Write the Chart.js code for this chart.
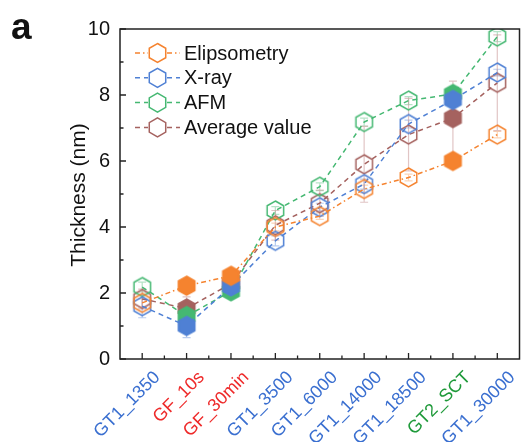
<!DOCTYPE html>
<html>
<head>
<meta charset="utf-8">
<script src="https://cdn.jsdelivr.net/npm/chart.js@4"></script>
<style>
  html, body { margin: 0; padding: 0; background: #fff; }
  #wrap { width: 530px; height: 442px; position: relative; }
</style>
</head>
<body>
<div id="wrap"><canvas id="chart" width="530" height="442"></canvas></div>
<script>
// data
const samples = ['GT1_1350', 'GF_10s', 'GF_30min', 'GT1_3500', 'GT1_6000', 'GT1_14000', 'GT1_18500', 'GT2_SCT', 'GT1_30000'];
const sampleColors = ['#3a6fd0', '#ee2a2a', '#ee2a2a', '#3a6fd0', '#3a6fd0', '#3a6fd0', '#3a6fd0', '#1f9a3a', '#3a6fd0'];
const filledIdx = [1, 2, 7];

const elipsometry = [1.7, 2.22, 2.52, 4.0, 4.33, 5.15, 5.5, 6.0, 6.8];
const xray = [1.6, 1.0, 2.2, 3.58, 4.6, 5.3, 7.12, 7.85, 8.68];
const afm = [2.18, 1.3, 2.05, 4.5, 5.22, 7.18, 7.83, 8.03, 9.77];
const average = [1.82, 1.53, 2.28, 4.05, 4.72, 5.9, 6.8, 7.3, 8.37];

const elipsometryErr = [0.12, 0.12, 0.1, 0.12, 0.1, 0.12, 0.1, 0.1, 0.1];
const xrayErr = [0.35, 0.35, 0.12, 0.15, 0.12, 0.15, 0.12, 0.12, 0.1];
const afmErr = [0.15, 0.12, 0.12, 0.12, 0.12, 0.12, 0.12, 0.12, 0.15];
const averageErr = [0.3, 0.35, 0.25, 0.45, 0.4, 1.15, 1.1, 1.12, 1.45];

const yTicks = [0, 2, 4, 6, 8, 10];

const series = [
  { label: 'Elipsometry', data: elipsometry, err: elipsometryErr, color: '#f5832f', bar: 'rgba(245,131,47,0.35)', dash: [5, 3, 1.5, 3] },
  { label: 'X-ray', data: xray, err: xrayErr, color: '#4f80d4', bar: 'rgba(79,128,212,0.4)', dash: [5, 4] },
  { label: 'AFM', data: afm, err: afmErr, color: '#45b872', bar: 'rgba(69,184,114,0.4)', dash: [5, 4] },
  { label: 'Average value', data: average, err: averageErr, color: '#a5625f', bar: 'rgba(200,150,150,0.55)', dash: [5, 4] }
];

// pointy-top hexagon path
function hexPath(ctx, x, y, r) {
  ctx.beginPath();
  for (let k = 0; k < 6; k++) {
    const a = -Math.PI / 2 + k * Math.PI / 3;
    const px = x + r * Math.cos(a), py = y + r * Math.sin(a);
    if (k === 0) ctx.moveTo(px, py); else ctx.lineTo(px, py);
  }
  ctx.closePath();
}

function hexImage(color, filled) {
  const c = document.createElement('canvas');
  c.width = 23; c.height = 23;
  const ctx = c.getContext('2d');
  hexPath(ctx, 11.5, 11.5, 9.5);
  if (filled) { ctx.fillStyle = color; ctx.fill(); }
  ctx.strokeStyle = color;
  ctx.lineWidth = 1.5;
  ctx.stroke();
  return c;
}

const datasets = series.map(s => {
  const hollow = hexImage(s.color, false);
  const full = hexImage(s.color, true);
  return {
    label: s.label,
    data: s.data,
    borderColor: s.color,
    backgroundColor: s.color,
    borderWidth: 1.5,
    borderDash: s.dash,
    pointStyle: samples.map((_, i) => filledIdx.includes(i) ? full : hollow),
    pointRadius: 9,
    fill: false,
    tension: 0
  };
});

// error bars, frame, inward ticks, legend, panel letter
const decor = {
  id: 'decor',
  beforeDatasetsDraw(chart) {
    const ctx = chart.ctx, x = chart.scales.x, y = chart.scales.y;
    ctx.save();
    ctx.lineWidth = 1.2;
    series.forEach(s => {
      ctx.strokeStyle = s.bar;
      s.data.forEach((v, i) => {
        const px = x.getPixelForValue(i);
        const top = y.getPixelForValue(v + s.err[i]);
        const bot = y.getPixelForValue(v - s.err[i]);
        ctx.beginPath();
        ctx.moveTo(px, top); ctx.lineTo(px, bot);
        ctx.moveTo(px - 4, top); ctx.lineTo(px + 4, top);
        ctx.moveTo(px - 4, bot); ctx.lineTo(px + 4, bot);
        ctx.stroke();
      });
    });
    ctx.restore();
  },
  afterDraw(chart) {
    const ctx = chart.ctx, a = chart.chartArea, x = chart.scales.x, y = chart.scales.y;
    ctx.save();
    ctx.strokeStyle = '#222';
    ctx.lineWidth = 1.5;
    ctx.strokeRect(a.left, a.top, a.right - a.left, a.bottom - a.top);
    ctx.lineWidth = 1.3;
    ctx.beginPath();
    for (let v = 0; v <= 10; v++) {
      const py = y.getPixelForValue(v);
      const len = v % 2 === 0 ? 6 : 3.5;
      ctx.moveTo(a.left, py); ctx.lineTo(a.left + len, py);
    }
    for (let i = 0; i < samples.length; i++) {
      const px = x.getPixelForValue(i);
      ctx.moveTo(px, a.bottom); ctx.lineTo(px, a.bottom - 6);
      if (i < samples.length - 1) {
        const mx = (px + x.getPixelForValue(i + 1)) / 2;
        ctx.moveTo(mx, a.bottom); ctx.lineTo(mx, a.bottom - 3.5);
      }
    }
    ctx.stroke();

    // legend
    ctx.font = '20px "Liberation Sans", Arial, sans-serif';
    ctx.textBaseline = 'middle';
    series.forEach((s, i) => {
      const cy = 53 + i * 24.8;
      ctx.strokeStyle = s.color;
      ctx.lineWidth = 1.5;
      ctx.setLineDash(s.dash);
      ctx.beginPath();
      ctx.moveTo(135, cy); ctx.lineTo(148, cy);
      ctx.moveTo(167, cy); ctx.lineTo(180, cy);
      ctx.stroke();
      ctx.setLineDash([]);
      hexPath(ctx, 157.5, cy, 9.5);
      ctx.stroke();
      ctx.fillStyle = '#111';
      ctx.fillText(s.label, 184, cy + 1);
    });

    // y title
    ctx.save();
    ctx.translate(79, 195);
    ctx.rotate(-Math.PI / 2);
    ctx.textAlign = 'center';
    ctx.font = '21px "Liberation Sans", Arial, sans-serif';
    ctx.fillStyle = '#111';
    ctx.fillText('Thickness (nm)', 0, 0);
    ctx.restore();

    ctx.font = 'bold 37px "Liberation Sans", Arial, sans-serif';
    ctx.fillStyle = '#111';
    ctx.textBaseline = 'alphabetic';
    ctx.fillText('a', 11, 39);
    ctx.restore();
  }
};

new Chart(document.getElementById('chart').getContext('2d'), {
  type: 'line',
  data: { labels: samples, datasets: datasets },
  options: {
    responsive: false,
    animation: false,
    layout: { padding: { top: 29, right: 2, left: 0, bottom: 0 } },
    plugins: { legend: { display: false }, tooltip: { enabled: false } },
    scales: {
      x: {
        offset: true,
        grid: { display: false },
        border: { display: false },
        ticks: {
          minRotation: 45,
          maxRotation: 45,
          autoSkip: false,
          padding: 0,
          labelOffset: 15,
          color: ctx => sampleColors[ctx.index],
          font: { size: 18, family: '"Liberation Sans", Arial, sans-serif' }
        },
        afterFit: s => { s.height = 83; }
      },
      y: {
        min: 0,
        max: 10,
        grid: { display: false },
        border: { display: false },
        afterBuildTicks: s => { s.ticks = yTicks.map(v => ({ value: v })); },
        ticks: {
          padding: 2,
          color: '#111',
          font: { size: 20, family: '"Liberation Sans", Arial, sans-serif' }
        },
        afterFit: s => { s.width = 120; }
      }
    }
  },
  plugins: [decor]
});
</script>
</body>
</html>
